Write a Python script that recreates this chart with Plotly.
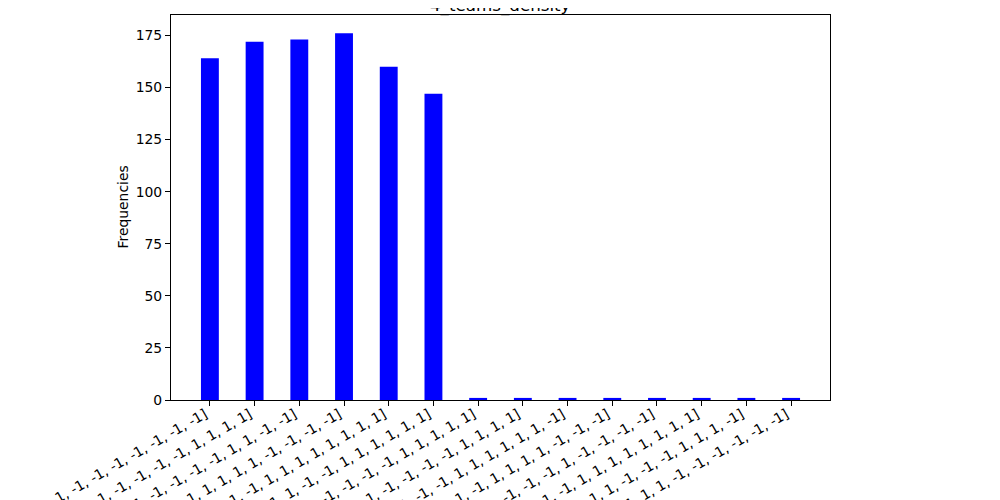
import plotly.graph_objects as go

# sign patterns shown on the x axis (only the tail of each is visible in the picture)
patterns = [
    [1, 1, 1, 1, 1, 1, 1, 1, -1, -1, -1, -1, -1, -1, -1, -1],
    [1, 1, 1, 1, -1, -1, -1, -1, -1, -1, -1, -1, 1, 1, 1, 1],
    [-1, -1, -1, -1, 1, 1, 1, 1, -1, -1, -1, -1, 1, 1, -1, -1],
    [-1, -1, -1, -1, 1, 1, 1, 1, 1, 1, 1, 1, -1, -1, -1, -1],
    [-1, -1, -1, -1, -1, -1, -1, -1, 1, 1, 1, 1, 1, 1, 1, 1],
    [-1, -1, -1, -1, 1, 1, 1, 1, -1, -1, 1, 1, 1, 1, 1, 1],
    [1, 1, 1, 1, -1, -1, -1, -1, -1, -1, -1, 1, 1, 1, 1, 1],
    [-1, -1, -1, -1, 1, 1, 1, -1, -1, -1, -1, -1, 1, 1, 1, 1],
    [1, 1, 1, 1, -1, -1, -1, -1, -1, 1, 1, 1, 1, 1, 1, -1],
    [1, 1, 1, 1, 1, -1, -1, -1, -1, 1, 1, 1, 1, -1, -1, -1],
    [-1, -1, -1, -1, 1, 1, 1, 1, -1, -1, -1, 1, -1, -1, -1, -1],
    [1, 1, 1, -1, -1, -1, -1, -1, 1, 1, 1, 1, 1, 1, 1, 1],
    [-1, -1, -1, -1, 1, 1, 1, 1, 1, -1, -1, -1, 1, 1, 1, -1],
    [1, 1, 1, 1, -1, -1, -1, -1, 1, 1, -1, -1, -1, -1, -1, -1],
]
frequencies = [164, 172, 173, 176, 160, 147, 1, 1, 1, 1, 1, 1, 1, 1]
tick_labels = [str(p) for p in patterns]
y_ticks = [0, 25, 50, 75, 100, 125, 150, 175]

font = dict(family="DejaVu Sans", size=13.9, color="black")

fig = go.Figure(
    go.Bar(
        x=list(range(len(frequencies))),
        y=frequencies,
        width=0.4,
        marker=dict(color="blue", line=dict(width=0)),
    )
)

# the page has an 8px body margin, so margins are trimmed by 8 on left/top
fig.update_layout(
    width=1000,
    height=500,
    margin=dict(l=163, r=178, t=7, b=108),
    paper_bgcolor="white",
    plot_bgcolor="white",
    showlegend=False,
    font=font,
)

fig.update_xaxes(
    range=[-0.87, 13.87],
    tickmode="array",
    tickvals=list(range(len(tick_labels))),
    ticktext=tick_labels,
    tickangle=-30,
    ticklabelshift=-5,
    ticklabelstandoff=-5,
    ticklabeloverflow="allow",
    ticks="outside",
    ticklen=5,
    tickwidth=1.1,
    tickcolor="black",
    showline=True,
    linecolor="black",
    linewidth=1.1,
    mirror=True,
    showgrid=False,
    zeroline=False,
    automargin=False,
    tickfont=font,
)

fig.update_yaxes(
    range=[0, 184.8],
    tickmode="array",
    tickvals=y_ticks,
    ticks="outside",
    ticklen=5,
    tickwidth=1.1,
    tickcolor="black",
    showline=True,
    linecolor="black",
    linewidth=1.1,
    mirror=True,
    showgrid=False,
    zeroline=False,
    automargin=False,
    tickfont=font,
)

# title, sitting partly above the top edge like the reference
fig.add_annotation(
    text="4_teams_density",
    xref="paper",
    yref="paper",
    x=0.5,
    y=1,
    xanchor="center",
    yanchor="middle",
    yshift=9.5,
    showarrow=False,
    font=dict(family="DejaVu Sans", size=16.7, color="black"),
)

# y axis label placed by hand, matplotlib style
fig.add_annotation(
    text="Frequencies",
    textangle=-90,
    xref="paper",
    yref="paper",
    x=0,
    y=0.5,
    xanchor="center",
    yanchor="middle",
    xshift=-49,
    showarrow=False,
    font=font,
)

fig.write_html("out.html")
